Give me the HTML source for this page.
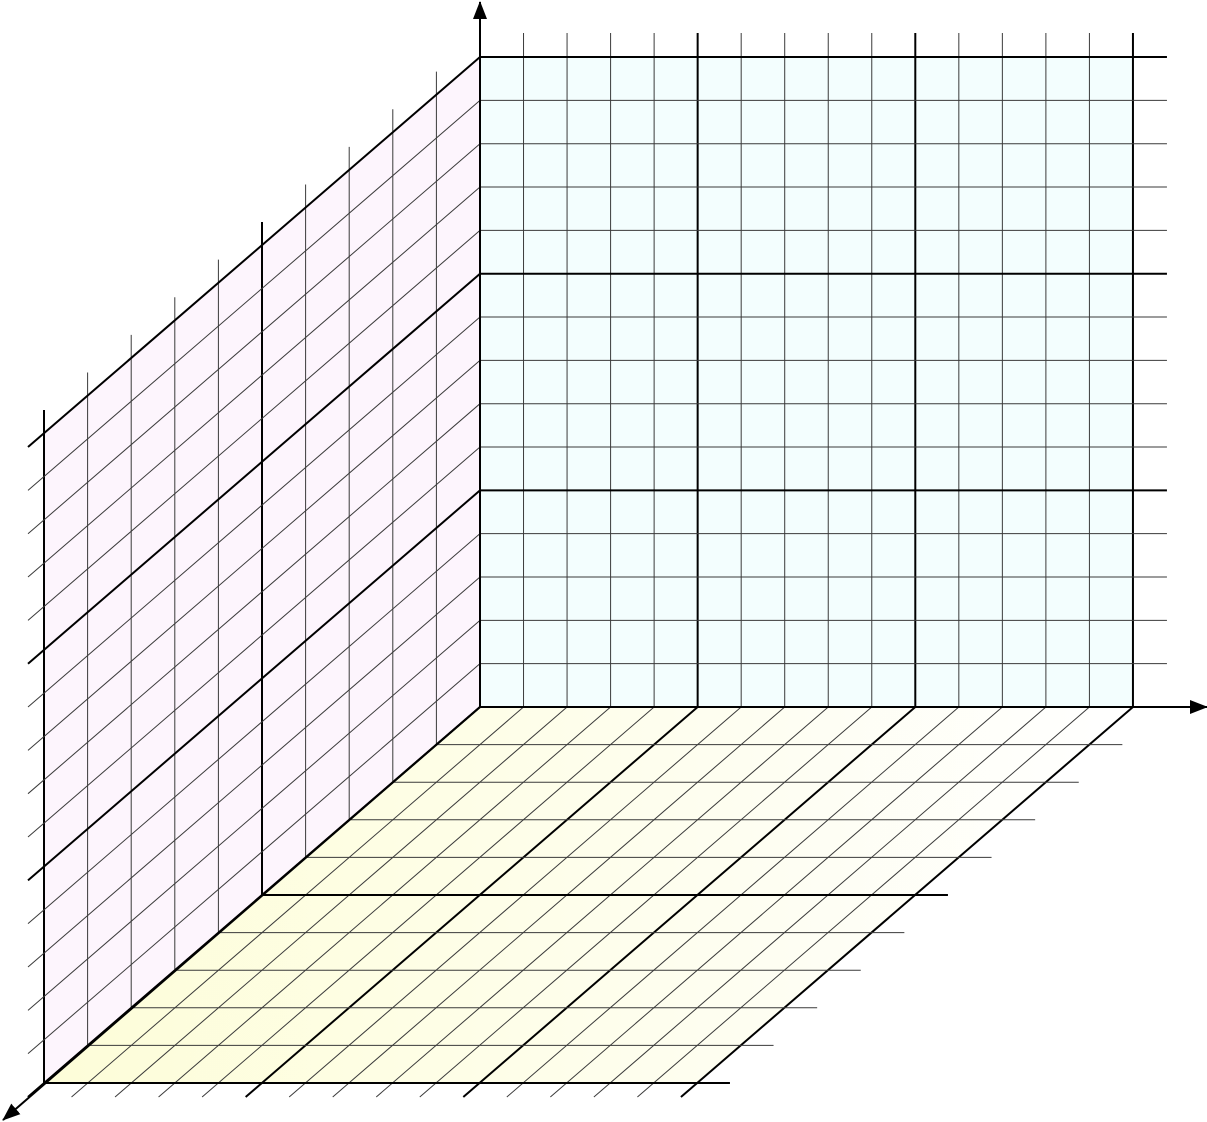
<!DOCTYPE html>
<html><head><meta charset="utf-8"><style>html,body{margin:0;padding:0;background:#fff}svg{display:block}</style></head>
<body>
<svg id="chart" width="1207" height="1122" viewBox="0 0 1207 1122" xmlns="http://www.w3.org/2000/svg">
<defs>
<linearGradient id="floorGrad" x1="0" y1="0" x2="1" y2="0">
<stop offset="0" stop-color="#fdfdd8"/><stop offset="1" stop-color="#ffffff"/>
</linearGradient>
<marker id="arr" markerWidth="18" markerHeight="14" refX="17" refY="7" orient="auto" markerUnits="userSpaceOnUse"><path d="M0,0 L18,7 L0,14 z" fill="#000"/></marker>
</defs>
</svg>
<script>
const xTicks = [0,1,2,3,4,5,6,7,8,9,10,11,12,13,14,15];
const yTicks = [0,1,2,3,4,5,6,7,8,9,10,11,12,13,14,15];
const zTicks = [0,1,2,3,4,5,6,7,8,9,10];
const majorEvery = 5;

const O = {x:480, y:707};
const xStep = 43.53, yStep = 43.33, zdx = -43.6, zdy = 37.6;
const xMax = xTicks[xTicks.length-1], yMax = yTicks[yTicks.length-1], zMax = zTicks[zTicks.length-1];
function P(x,y,z){ return {x: O.x + x*xStep + z*zdx, y: O.y - y*yStep + z*zdy}; }

const svg = document.getElementById('chart');
const NS = 'http://www.w3.org/2000/svg';
function poly(pts, fill, name){
  const e = document.createElementNS(NS,'polygon');
  e.setAttribute('points', pts.map(p=>p.x+','+p.y).join(' '));
  e.setAttribute('fill', fill);
  
  
  svg.appendChild(e);
}
function line(a,b,major,name){
  const e = document.createElementNS(NS,'line');
  e.setAttribute('x1',a.x); e.setAttribute('y1',a.y); e.setAttribute('x2',b.x); e.setAttribute('y2',b.y);
  e.setAttribute('stroke', major ? '#000' : '#3a3a3a');
  e.setAttribute('stroke-width', major ? 2 : 1);
  
  
  svg.appendChild(e);
  return e;
}
function off(p,dx,dy){ return {x:p.x+dx, y:p.y+dy}; }

poly([P(0,0,0),P(xMax,0,0),P(xMax,yMax,0),P(0,yMax,0)], '#f3fefe', 'back-wall');
poly([P(0,0,0),P(0,yMax,0),P(0,yMax,zMax),P(0,0,zMax)], '#fdf5fd', 'left-wall');
poly([P(0,0,0),P(xMax,0,0),P(xMax,0,zMax),P(0,0,zMax)], 'url(#floorGrad)', 'floor');

xTicks.forEach(x=>{ line(P(x,0,0), off(P(x,yMax,0),0,-24), x%majorEvery===0, 'back-wall-vertical-gridline'); });
yTicks.forEach(y=>{ line(P(0,y,0), off(P(xMax,y,0),34,0), y%majorEvery===0, 'back-wall-horizontal-gridline'); });
zTicks.forEach(z=>{ line(P(0,0,z), off(P(0,yMax,z),0,-23), z%majorEvery===0, 'left-wall-vertical-gridline'); });
yTicks.forEach(y=>{ line(P(0,y,0), off(P(0,y,zMax),-16,14), y%majorEvery===0, 'left-wall-depth-gridline'); });
xTicks.forEach(x=>{ line(P(x,0,0), off(P(x,0,zMax),-16,14), x%majorEvery===0, 'floor-depth-gridline'); });
zTicks.forEach(z=>{ line(P(0,0,z), off(P(xMax,0,z),33,0), z%majorEvery===0, 'floor-horizontal-gridline'); });

let a;
a = line(P(0,0,0), {x:480,y:2}, true, 'y-axis'); a.setAttribute('marker-end','url(#arr)');
a = line(P(0,0,0), {x:1207,y:707}, true, 'x-axis'); a.setAttribute('marker-end','url(#arr)');
a = line(P(0,0,0), {x:3,y:1120}, true, 'z-axis'); a.setAttribute('marker-end','url(#arr)');
</script>
</body></html>
